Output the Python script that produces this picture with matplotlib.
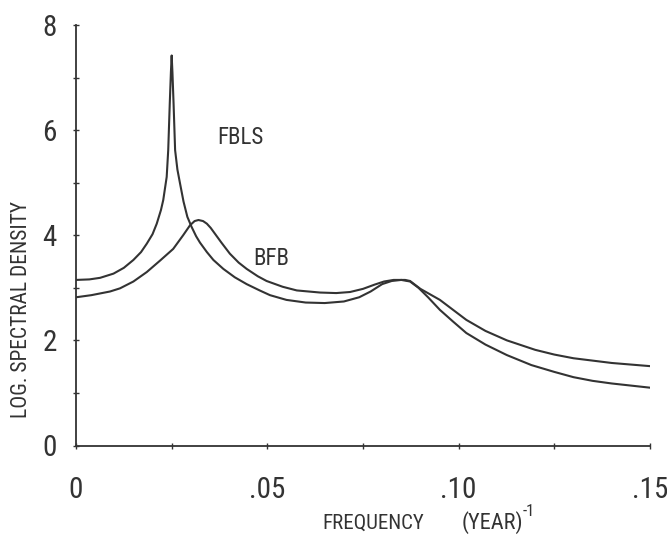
import matplotlib
matplotlib.use("Agg")
from matplotlib import pyplot as plt
from matplotlib import font_manager
import numpy as np

# frequency (1/year) and log spectral density, two estimators
fbls_freq = [0.000, 0.0035, 0.0063, 0.0098, 0.0125, 0.0150, 0.0170, 0.0185, 0.0200,
             0.0211, 0.0222, 0.0228, 0.0237, 0.0241, 0.0245, 0.0248, 0.0250, 0.0252,
             0.0255, 0.0259, 0.0265, 0.0272, 0.0281, 0.0291, 0.0302, 0.0314, 0.0324,
             0.0342, 0.0359, 0.0385, 0.0415, 0.0446, 0.0480, 0.0507, 0.0550, 0.0600,
             0.0650, 0.0700, 0.0740, 0.0770, 0.0800, 0.0825, 0.0850, 0.0873, 0.0895,
             0.0920, 0.0951, 0.0985, 0.1020, 0.1070, 0.1126, 0.1190, 0.1250, 0.1300,
             0.1350, 0.1400, 0.1450, 0.1500]
fbls_logsd = [3.15, 3.16, 3.19, 3.27, 3.38, 3.53, 3.68, 3.84, 4.02,
              4.22, 4.48, 4.67, 5.11, 5.62, 6.50, 7.10, 7.42, 7.10,
              6.50, 5.62, 5.25, 4.98, 4.64, 4.35, 4.16, 3.98, 3.86,
              3.68, 3.53, 3.36, 3.20, 3.07, 2.95, 2.86, 2.77, 2.72,
              2.71, 2.74, 2.82, 2.93, 3.07, 3.13, 3.15, 3.12, 3.00,
              2.82, 2.58, 2.36, 2.14, 1.92, 1.72, 1.53, 1.40, 1.30,
              1.23, 1.18, 1.14, 1.10]

bfb_freq = [0.000, 0.0040, 0.0089, 0.0115, 0.0150, 0.0185, 0.0220, 0.0254, 0.0280,
            0.0298, 0.0310, 0.0320, 0.0332, 0.0342, 0.0352, 0.0363, 0.0380, 0.0402,
            0.0425, 0.0446, 0.0475, 0.0498, 0.0540, 0.0577, 0.0638, 0.0680, 0.0716,
            0.0750, 0.0780, 0.0805, 0.0830, 0.0860, 0.0873, 0.0900, 0.0951, 0.1020,
            0.1070, 0.1126, 0.1200, 0.1250, 0.1300, 0.1400, 0.1500]
bfb_logsd = [2.82, 2.86, 2.93, 2.99, 3.12, 3.30, 3.52, 3.74, 4.00,
             4.19, 4.27, 4.29, 4.27, 4.22, 4.14, 4.03, 3.86, 3.65,
             3.48, 3.36, 3.22, 3.13, 3.02, 2.95, 2.91, 2.90, 2.92,
             2.98, 3.06, 3.12, 3.15, 3.15, 3.13, 2.98, 2.77, 2.39,
             2.18, 2.00, 1.82, 1.73, 1.66, 1.57, 1.51]

x_ticks = [0, 0.05, 0.10, 0.15]
x_ticklabels = ["0", ".05", ".10", ".15"]
y_ticks = [0, 2, 4, 6, 8]

ink = "#333333"

# narrow lettering if a condensed face is around
names = {f.name for f in font_manager.fontManager.ttflist}
narrow = [n for n in ["Roboto Condensed", "Open Sans Condensed", "Liberation Sans Narrow",
                      "DejaVu Sans Condensed"] if n in names]
plt.rcParams["font.family"] = narrow + ["DejaVu Sans"]
plt.rcParams["font.stretch"] = "condensed"

fig = plt.figure(figsize=(6.67, 5.44), dpi=100)
ax = fig.add_axes([76 / 667, 1 - 445.5 / 544, 574 / 667, 420.5 / 544])

ax.plot(fbls_freq, fbls_logsd, color=ink, lw=1.5)
ax.plot(bfb_freq, bfb_logsd, color=ink, lw=1.5)

ax.text(0.0429, 5.86, "FBLS", fontsize=16.5, color=ink, ha="center", va="center")
ax.text(0.051, 3.56, "BFB", fontsize=16.5, color=ink, ha="center", va="center")

ax.set_xlim(0, 0.15)
ax.set_ylim(0, 8)
for side in ["top", "right"]:
    ax.spines[side].set_visible(False)
for side in ["left", "bottom"]:
    ax.spines[side].set_color(ink)
    ax.spines[side].set_linewidth(1.3)

ax.set_xticks(x_ticks)
ax.set_xticklabels(x_ticklabels)
ax.set_yticks(y_ticks)
ax.set_xticks(np.arange(0, 0.151, 0.025), minor=True)
ax.set_yticks(np.arange(0, 8.1, 1), minor=True)
ax.tick_params(which="both", direction="inout", length=4, width=1, color=ink)
ax.tick_params(axis="x", which="major", pad=20, labelsize=21, labelcolor=ink)
ax.tick_params(axis="y", which="major", pad=12, labelsize=21, labelcolor=ink)

fig.text(322 / 667, 1 - 523 / 544, "FREQUENCY", fontsize=15, color=ink,
         ha="left", va="center")
fig.text(492 / 667, 1 - 523 / 544, "(YEAR)", fontsize=16, color=ink,
         ha="center", va="center")
fig.text(523 / 667, 1 - 512 / 544, "-1", fontsize=12, color=ink,
         ha="left", va="center")
fig.text(22 / 667, 1 - 310 / 544, "LOG. SPECTRAL DENSITY", fontsize=15.5, color=ink,
         rotation=90, ha="center", va="center")

fig.savefig("out.png", dpi=100)
